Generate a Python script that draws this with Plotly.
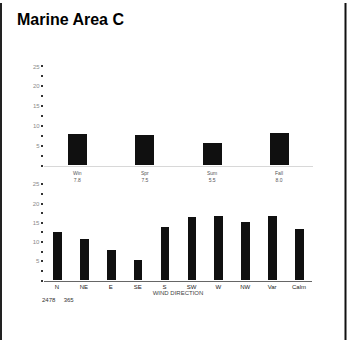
import plotly.graph_objects as go

# Seasonal panel (upper) and wind-direction panel (lower), percent frequency
season_labels = ["Win", "Spr", "Sum", "Fall"]
season_values = [7.8, 7.5, 5.5, 8.0]

direction_labels = ["N", "NE", "E", "SE", "S", "SW", "W", "NW", "Var", "Calm"]
direction_values = [12.5, 10.8, 7.8, 5.3, 13.8, 16.5, 16.7, 15.2, 16.7, 13.3]

y_tick_vals = [0, 2.5, 5, 7.5, 10, 12.5, 15, 17.5, 20, 22.5, 25]
y_tick_text = ["", "", "5", "", "10", "", "15", "", "20", "", "25"]

footnote = "2478     365"
bar_color = "#101010"
faint = "#8a8a8a"

fig = go.Figure()

fig.add_trace(go.Bar(
    x=season_labels, y=season_values, width=0.28,
    marker=dict(color=bar_color, line=dict(width=0)),
    xaxis="x", yaxis="y", showlegend=False,
))
fig.add_trace(go.Bar(
    x=direction_labels, y=direction_values, width=0.32,
    marker=dict(color=bar_color, line=dict(width=0)),
    xaxis="x2", yaxis="y2", showlegend=False,
))

yaxis_common = dict(
    range=[0, 25], tickvals=y_tick_vals, ticktext=y_tick_text,
    ticks="outside", ticklen=2, tickwidth=2, tickcolor="#333",
    tickfont=dict(size=6, color=faint, family="Liberation Sans"),
    showgrid=False, zeroline=False, showline=False, fixedrange=True,
)

fig.update_layout(
    width=349, height=340,
    margin=dict(l=0, r=0, t=0, b=0),
    paper_bgcolor="white", plot_bgcolor="white",
    bargap=0,
    xaxis=dict(
        domain=[0.1258, 0.8968], anchor="y",
        showticklabels=False, ticks="", showgrid=False,
        showline=True, linecolor="#d8d8d8", linewidth=1, zeroline=False,
    ),
    yaxis=dict(domain=[0.5176, 0.8118], anchor="x", **yaxis_common),
    xaxis2=dict(
        domain=[0.1248, 0.8953], anchor="y2",
        ticks="", showgrid=False, zeroline=False,
        showline=True, linecolor="#666", linewidth=1,
        tickfont=dict(size=6, color="#222", family="Liberation Sans"),
        title=dict(text="WIND DIRECTION", standoff=2,
                   font=dict(size=6, color="#444", family="Liberation Sans")),
    ),
    yaxis2=dict(domain=[0.1765, 0.4618], anchor="x2", **yaxis_common),
    font=dict(family="Liberation Sans"),
)

# Value captions under the seasonal bars
for lab, val in zip(season_labels, season_values):
    fig.add_annotation(
        x=lab, y=0, xref="x", yref="y", yanchor="top", yshift=-2,
        text=f"{lab}<br>{val:.1f}", showarrow=False,
        font=dict(size=5, color="#555", family="Liberation Sans"),
    )

# Title
fig.add_annotation(
    x=15 / 349, y=1 - 6 / 340, xref="paper", yref="paper",
    xanchor="left", yanchor="top", text="<b>Marine Area C</b>",
    showarrow=False, font=dict(size=16, color="black", family="Liberation Sans"),
)

# Footnote counts
fig.add_annotation(
    x=40 / 349, y=1 - 295 / 340, xref="paper", yref="paper",
    xanchor="left", yanchor="top", text=footnote, showarrow=False,
    font=dict(size=6, color="#333", family="Liberation Sans"),
)

# Outer frame edges
fig.add_shape(type="line", xref="paper", yref="paper",
              x0=1 / 349, x1=1 / 349, y0=0, y1=1,
              line=dict(color="#222", width=2))
fig.add_shape(type="line", xref="paper", yref="paper",
              x0=345.5 / 349, x1=345.5 / 349, y0=0, y1=1,
              line=dict(color="#111", width=2))

fig.write_html("out.html")
